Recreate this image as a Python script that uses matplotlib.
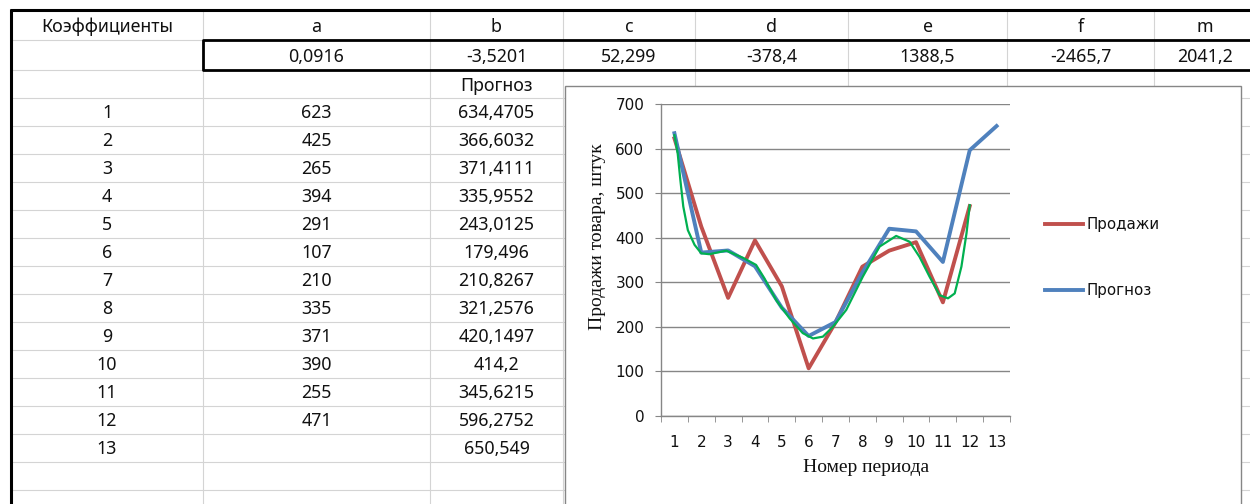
import matplotlib
matplotlib.use("Agg")
import matplotlib.pyplot as plt
from matplotlib.patches import Rectangle

# coefficient row of the sheet
coef_names = ["a", "b", "c", "d", "e", "f", "m"]
coef_values = [0.0916, -3.5201, 52.299, -378.4, 1388.5, -2465.7, 2041.2]

# table / chart data
periods = list(range(1, 14))
sales = [623, 425, 265, 394, 291, 107, 210, 335, 371, 390, 255, 471]
forecast = [634.4705, 366.6032, 371.4111, 335.9552, 243.0125, 179.496,
            210.8267, 321.2576, 420.1497, 414.2, 345.6215, 596.2752, 650.549]

# green hand drawn trend line
trend_x = [1.0, 1.12, 1.22, 1.33, 1.5, 1.75, 2.0, 2.3, 2.93, 3.55, 4.04, 4.35, 4.79,
           5.29, 5.78, 6.16, 6.53, 6.9, 7.4, 8.02, 8.64, 9.26, 9.76, 10.13,
           10.5, 10.88, 11.19, 11.44, 11.69, 11.88, 12.0]
trend_y = [630, 590, 530, 470, 417, 384, 365, 363, 371, 355, 339, 309, 260,
           219, 186, 174, 178, 200, 238, 313, 380, 404, 391, 357,
           313, 271, 264, 275, 335, 410, 473]

sheet_font = ["Noto Sans", "DejaVu Sans"]
serif_font = ["Liberation Serif", "DejaVu Serif"]
grid_col = "#d4d4d4"
axis_col = "#868686"
text_col = "#111111"

def fmt(v):
    return str(v).replace(".", ",")

fig = plt.figure(figsize=(12.5, 5.04), dpi=100)

# spreadsheet background, pixel coordinates
bg = fig.add_axes([0, 0, 1, 1])
bg.set_xlim(0, 1250)
bg.set_ylim(504, 0)
bg.axis("off")

col_edges = [11, 203, 430, 563, 695, 848, 1007, 1154, 1256]
row_edges = [10, 40, 70] + [98 + 28 * i for i in range(16)]
col_mid = [(col_edges[i] + col_edges[i + 1]) / 2 for i in range(len(col_edges) - 1)]

bg.hlines(row_edges, 11, 1250, color=grid_col, lw=0.8)
bg.vlines(col_edges[1:], 10, 504, color=grid_col, lw=0.8)

# thick borders
bg.plot([10, 1250], [10, 10], color="black", lw=2.2, solid_capstyle="butt")
bg.plot([11, 11], [9, 504], color="black", lw=2.2, solid_capstyle="butt")
bg.plot([1250, 203, 203, 1250], [40, 40, 70, 70], color="black", lw=2.0)

def cell(x, y, s):
    bg.text(x, y, s, ha="center", va="center", fontsize=12.8,
            family=sheet_font, color=text_col)

cell(col_mid[0], 27, "Коэффициенты")
for i, (name, val) in enumerate(zip(coef_names, coef_values)):
    cell(col_mid[i + 1], 27, name)
    cell(col_mid[i + 1], 57, fmt(val))
cell(col_mid[2], 86, "Прогноз")

for i, p in enumerate(periods):
    y = 113.5 + 28 * i
    cell(col_mid[0], y, str(p))
    if i < len(sales):
        cell(col_mid[1], y, str(sales[i]))
    cell(col_mid[2], y, fmt(forecast[i]))

# chart area
bg.add_patch(Rectangle((565, 86), 676, 460, facecolor="white",
                       edgecolor=axis_col, lw=1.0, zorder=3))

ax = fig.add_axes([661 / 1250, (504 - 416) / 504, 349 / 1250, 312 / 504])
ax.set_facecolor("none")
ax.set_xlim(0.5, 13.5)
ax.set_ylim(0, 700)

ax.plot(periods[:len(sales)], sales, color="#C0504D", lw=2.8, label="Продажи")
ax.plot(periods, forecast, color="#4F81BD", lw=2.8, label="Прогноз")
ax.plot(trend_x, trend_y, color="#00B050", lw=1.6)

ax.set_yticks(range(0, 701, 100))
ax.yaxis.grid(True, color=axis_col, lw=1.0)
ax.set_axisbelow(True)
ax.set_xticks(periods)
ax.set_xticks([p - 0.5 for p in periods] + [periods[-1] + 0.5], minor=True)

ax.tick_params(axis="y", length=4, color=axis_col, pad=8, labelsize=11,
               labelcolor=text_col)
ax.tick_params(axis="x", which="major", length=0, pad=14, labelsize=11,
               labelcolor=text_col)
ax.tick_params(axis="x", which="minor", length=4, color=axis_col)
for s in ["top", "right"]:
    ax.spines[s].set_visible(False)
for s in ["left", "bottom"]:
    ax.spines[s].set_color(axis_col)
    ax.spines[s].set_linewidth(1.0)

ax.set_ylabel("Продажи товара, штук", family=serif_font, fontsize=14,
              color=text_col, va="center")
ax.yaxis.set_label_coords((597 - 661) / 349, (416 - 237) / 312)
ax.set_xlabel("Номер периода", family=serif_font, fontsize=14,
              color=text_col, va="center")
ax.xaxis.set_label_coords((866 - 661) / 349, (416 - 467) / 312)

leg = ax.legend(loc="upper left", bbox_to_anchor=(1045, 217),
                bbox_transform=bg.transData, frameon=False, fontsize=10.8,
                handlelength=2.5, handletextpad=0.3, labelspacing=3.4,
                borderpad=0, borderaxespad=0)
for t in leg.get_texts():
    t.set_color(text_col)

fig.savefig("out.png", dpi=100)
